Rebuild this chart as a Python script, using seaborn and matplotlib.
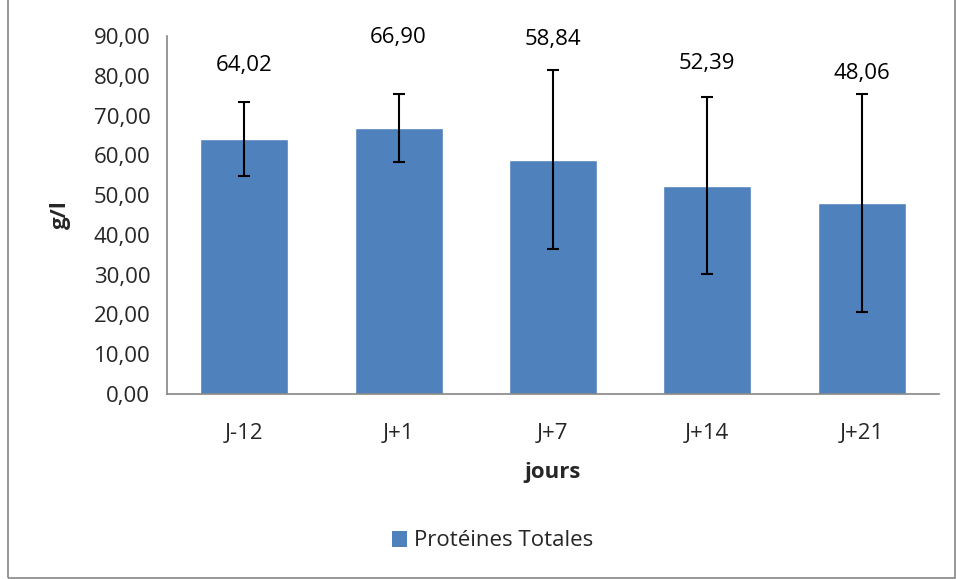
import matplotlib
matplotlib.use("Agg")
import matplotlib.pyplot as plt
import seaborn as sns
import pandas as pd
from matplotlib.patches import Rectangle, Patch

categories = ["J-12", "J+1", "J+7", "J+14", "J+21"]
values = [64.02, 66.90, 58.84, 52.39, 48.06]
errors = [9.3, 8.6, 22.5, 22.3, 27.4]
value_labels = ["64,02", "66,90", "58,84", "52,39", "48,06"]
yticks = [0, 10, 20, 30, 40, 50, 60, 70, 80, 90]
ytick_labels = ["0,00", "10,00", "20,00", "30,00", "40,00", "50,00", "60,00", "70,00", "80,00", "90,00"]
series_name = "Protéines Totales"

label_y = [82.7, 89.7, 89.0, 83.2, 80.7]

sns.set_theme(style="white")
plt.rcParams['font.family'] = ['Open Sans', 'DejaVu Sans']
FS = 16

df = pd.DataFrame({"jour": categories, "val": values})
color = "#4F81BD"

fig = plt.figure(figsize=(9.56, 5.79), dpi=100)
ax = fig.add_axes([0.1747, 0.3195, 0.982 - 0.1747, 0.9378 - 0.3195])

sns.barplot(data=df, x="jour", y="val", color=color, width=0.57, ax=ax,
            saturation=1, errorbar=None)
ax.errorbar(range(len(values)), values, yerr=errors, fmt="none", ecolor="black",
            elinewidth=1.5, capsize=4.3, capthick=1.5)

for i, (lab, y) in enumerate(zip(value_labels, label_y)):
    ax.text(i, y, lab, ha="center", va="center", fontsize=FS, color="black")

ax.set_ylim(0, 90)
ax.set_xlim(-0.5, len(categories) - 0.5)
ax.set_yticks(yticks)
ax.set_yticklabels(ytick_labels, fontsize=FS)
ax.tick_params(axis="x", labelsize=FS, length=0, pad=21)
ax.tick_params(axis="y", length=0, pad=12)
ax.set_xlabel("jours", fontsize=FS, fontweight="bold", labelpad=13)
ax.set_ylabel("g/l", fontsize=FS, fontweight="bold", labelpad=16)

for s in ["top", "right"]:
    ax.spines[s].set_visible(False)
for s in ["left", "bottom"]:
    ax.spines[s].set_color("#868686")
    ax.spines[s].set_linewidth(1.2)

handles = [Patch(facecolor=color, edgecolor="none", label=series_name)]
fig.legend(handles=handles, loc="center", bbox_to_anchor=(0.515, 1 - 541 / 579),
           frameon=False, fontsize=FS, handlelength=0.7, handleheight=0.7,
           handletextpad=0.3)

fig.patches.append(Rectangle((8 / 956, 0.002), 1 - 9 / 956, 1.2, transform=fig.transFigure,
                             fill=False, edgecolor="#868686", linewidth=1.2))

fig.savefig("out.png", dpi=100)
